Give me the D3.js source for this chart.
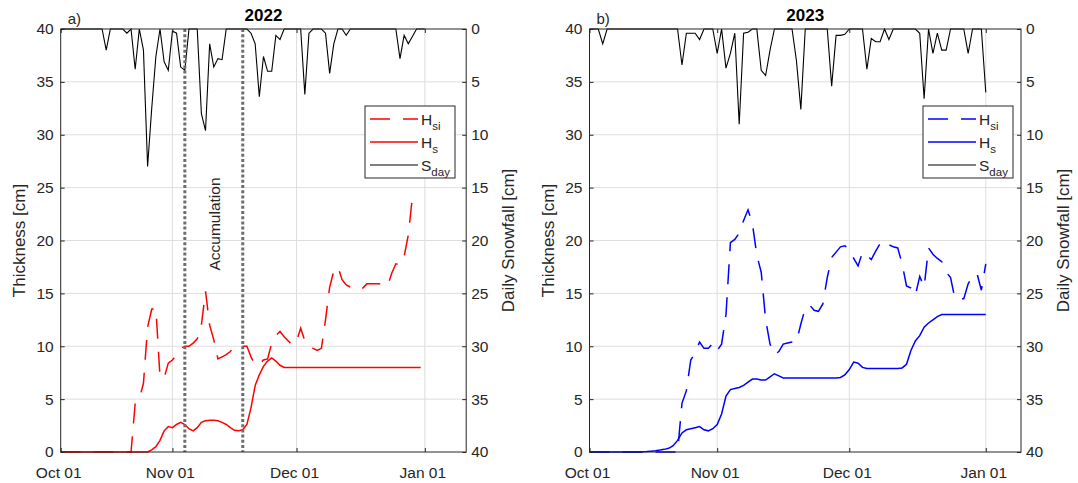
<!DOCTYPE html>
<html>
<head>
<meta charset="utf-8">
<script src="https://cdn.jsdelivr.net/npm/d3@7"></script>
<style>
body { margin: 0; background: #fff; }
svg text { font-family: "Liberation Sans", Arial, Helvetica, sans-serif; fill: #262626; }
</style>
</head>
<body>
<svg id="chart" width="1078" height="483"></svg>
<script>
// ---------------- data ----------------
const xTickLabels = ["Oct 01", "Nov 01", "Dec 01", "Jan 01"];
const yTicks = [0, 5, 10, 15, 20, 25, 30, 35, 40];
const legendLabels = [["H", "si"], ["H", "s"], ["S", "day"]];

// 2022 season, daily values starting Oct 05
const start2022 = "2022-10-05";
const snow2022 = [
	0, 0, 0, 0, 0, 0, 0, 0, 0, 0,
	0, 2.0, 0, 0, 0, 0, 0.4, 0, 3.8, 0,
	2.0, 13.0, 7.5, 2.6, 0, 3.1, 3.9, 0.2, 0.4, 3.6,
	3.9, 0, 0, 0, 8.0, 9.6, 1.4, 3.6, 2.8, 2.9,
	0, 0, 0, 0, 0, 0, 0.4, 1.4, 6.4, 2.6,
	4.0, 4.0, 0.6, 1.0, 0, 0, 0, 0, 0, 6.2,
	0.4, 0, 0, 0, 0.4, 4.2, 1.4, 0, 0, 0.6,
	0, 0, 0, 0, 0, 0, 0, 0, 0, 0,
	0, 0, 2.8, 0.6, 1.4, 0.7, 0, 0, 0
];
const hsi2022 = [
	0, 0, 0, 0, 0, 0, 0, 0, 0, 0,
	0, 0, 0, 0, 0, 0, 0, 0, 4.6, 5.0,
	6.5, 11.8, 13.5, 13.6, 7.1, 7.0, 8.4, 8.7, 9.2, 9.8,
	10.0, 10.0, 10.3, 10.7, 12.0, 15.2, 12.0, 10.6, 8.8, 9.0,
	9.2, 9.5, 10.0, 10.0, 10.0, 10.0, 9.0, 8.2, 8.3, 8.7,
	8.8, 10.3, 11.0, 11.4, 10.9, 10.5, 10.1, 10.5, 11.7, 10.5,
	10.0, 9.8, 9.6, 9.8, 12.5, 15.6, 17.1, 17.5, 16.3, 15.8,
	15.6, 15.4, 15.3, 15.5, 15.9, 15.9, 15.9, 15.9, 15.8, 15.7,
	16.9, 17.8, 17.7, 18.5, 20.5, 24.1
];
const hs2022 = [
	0, 0, 0, 0, 0, 0, 0, 0, 0, 0,
	0, 0, 0, 0, 0, 0, 0, 0, 0, 0,
	0, 0, 0.2, 0.5, 1.1, 2.0, 2.4, 2.3, 2.6, 2.8,
	2.6, 2.2, 2.0, 2.3, 2.8, 2.95, 3.0, 3.0, 2.95, 2.8,
	2.6, 2.3, 2.05, 2.0, 2.1, 2.6, 4.2, 6.3, 7.3, 8.1,
	8.6, 8.9, 8.6, 8.2, 8.0, 8, 8, 8, 8, 8,
	8, 8, 8, 8, 8, 8, 8, 8, 8, 8,
	8, 8, 8, 8, 8, 8, 8, 8, 8, 8,
	8, 8, 8, 8, 8, 8, 8, 8
];
const accumDates2022 = ["2022-11-04", "2022-11-18"];

// 2023 season, daily values starting Oct 03
const start2023 = "2023-10-03";
const snow2023 = [
	0, 0, 0, 1.4, 0, 0, 0, 0, 0, 0,
	0, 0, 0, 0, 0, 0, 0, 0, 0, 0,
	0, 3.4, 0.4, 0.4, 0.4, 1.0, 0, 0, 0, 2.3,
	0, 3.7, 2.3, 0.4, 9.0, 0.4, 0.3, 0, 0, 3.9,
	4.4, 2.0, 0, 0, 0, 0, 0, 3.0, 7.6, 0,
	0, 0, 0, 0, 0, 5.4, 0.6, 0.6, 0.5, 0,
	0, 0, 0, 3.8, 0.9, 1.2, 1.2, 0, 1.0, 0,
	0, 0, 0, 0, 0, 0.4, 6.6, 0, 2.3, 0.4,
	2.0, 2.0, 0, 0, 0, 0, 2.3, 0, 0, 0, 6.0
];
const hsi2023 = [
	0, 0, 0, 0, 0, 0, 0, 0, 0, 0,
	0, 0, 0, 0, 0, 0, 0, 0, 0, 0,
	0, 4.6, 5.8, 8.7, 9.4, 10.4, 9.8, 9.8, 10.3, 9.6,
	10.2, 13.0, 19.8, 20.1, 20.7, 21.9, 22.9, 21.6, 18.6, 17.0,
	12.5, 10.2, 9.2, 9.5, 10.2, 10.3, 10.4, 10.4, 12.1, 13.6,
	13.9, 13.4, 13.3, 14.0, 16.5, 18.4, 18.9, 19.4, 19.5, 19.2,
	18.3, 17.6, 18.9, 18.6, 18.2, 19.0, 19.7, 20.0, 19.6, 19.4,
	19.3, 17.8, 15.7, 15.5, 14.8, 16.6, 15.6, 19.3, 18.7, 18.3,
	18.0, 17.0, 16.5, 14.5, 14.5, 14.5, 15.9, 16.6, 16.9, 15.3, 17.8
];
const hs2023 = [
	0, 0, 0, 0, 0, 0, 0, 0, 0, 0,
	0, 0, 0.02, 0.04, 0.08, 0.12, 0.18, 0.25, 0.35, 0.6,
	1.1, 1.8, 2.1, 2.2, 2.3, 2.4, 2.1, 2.0, 2.2, 2.6,
	3.6, 5.3, 5.9, 6.0, 6.1, 6.3, 6.6, 6.9, 6.9, 6.8,
	6.8, 7.1, 7.4, 7.2, 7.0, 7, 7, 7, 7, 7,
	7, 7, 7, 7, 7, 7, 7, 7.05, 7.3, 7.8,
	8.5, 8.4, 8.0, 7.9, 7.9, 7.9, 7.9, 7.9, 7.9, 7.9,
	7.9, 7.95, 8.3, 9.6, 10.5, 11.0, 11.8, 12.2, 12.5, 12.8,
	13, 13, 13, 13, 13, 13, 13, 13, 13, 13, 13
];

// ---------------- drawing ----------------
const svg = d3.select("#chart");
const parseDay = s => new Date(s + "T00:00:00Z");
const TOP = 29, BOTTOM = 452;
const DASH = "20,13";

function drawPanel(p) {
	const x = d3.scaleUtc()
		.domain([parseDay(p.xMin), parseDay(p.xMax)])
		.range([p.left, p.right]);
	const y = d3.scaleLinear().domain([0, 40]).range([BOTTOM, TOP]);
	const ySnow = d3.scaleLinear().domain([0, 40]).range([TOP, BOTTOM]); // 거꾸로
	const tickDates = p.xTicks.map(parseDay);

	const g = svg.append("g");

	// grid
	g.append("g").selectAll("line")
		.data(yTicks.slice(1, -1))
		.join("line")
		.attr("x1", p.left).attr("x2", p.right)
		.attr("y1", d => y(d)).attr("y2", d => y(d))
		.attr("stroke", "#dedede");
	g.append("g").selectAll("line")
		.data(tickDates.slice(1))
		.join("line")
		.attr("x1", d => x(d)).attr("x2", d => x(d))
		.attr("y1", TOP).attr("y2", BOTTOM)
		.attr("stroke", "#dedede");

	g.append("clipPath").attr("id", "clip" + p.id)
		.append("rect")
		.attr("x", p.left).attr("y", TOP - 1)
		.attr("width", p.right - p.left).attr("height", BOTTOM - TOP + 2);

	const plot = g.append("g").attr("clip-path", `url(#clip${p.id})`);
	const start = parseDay(p.start);
	const lineOf = scale => d3.line()
		.x((d, i) => x(d3.utcDay.offset(start, i)))
		.y(d => scale(d));

	plot.append("path").datum(p.snow)
		.attr("d", lineOf(ySnow))
		.attr("fill", "none").attr("stroke", "#000").attr("stroke-width", 1.1);

	plot.append("path").datum(p.hsi)
		.attr("d", lineOf(y))
		.attr("fill", "none").attr("stroke", p.color).attr("stroke-width", 1.5)
		.attr("stroke-dasharray", DASH);

	plot.append("path").datum(p.hs)
		.attr("d", lineOf(y))
		.attr("fill", "none").attr("stroke", p.color).attr("stroke-width", 1.5);

	// 적설 구간 표시
	if (p.accum) {
		plot.selectAll(".accum").data(p.accum.map(parseDay))
			.join("line")
			.attr("class", "accum")
			.attr("x1", d => x(d)).attr("x2", d => x(d))
			.attr("y1", TOP).attr("y2", BOTTOM)
			.attr("stroke", "#6e6e6e").attr("stroke-width", 3)
			.attr("stroke-dasharray", "3,2.2");
		const mid = (x(parseDay(p.accum[0])) + x(parseDay(p.accum[1]))) / 2;
		g.append("text")
			.attr("transform", `translate(${mid + 6},224) rotate(-90)`)
			.attr("text-anchor", "middle")
			.style("font-size", "15.5px")
			.text("Accumulation");
	}

	// axes
	const styleAxis = sel => {
		sel.select(".domain").remove();
		sel.selectAll(".tick line").attr("stroke", "#262626");
		sel.selectAll("text").style("font-size", "15.5px");
	};
	g.append("g").attr("transform", `translate(${p.left},0)`)
		.call(d3.axisLeft(y).tickValues(yTicks).tickSizeInner(-4).tickSizeOuter(0).tickPadding(7))
		.call(styleAxis);
	g.append("g").attr("transform", `translate(${p.right},0)`)
		.call(d3.axisRight(ySnow).tickValues(yTicks).tickSizeInner(-4).tickSizeOuter(0).tickPadding(5))
		.call(styleAxis);
	g.append("g").attr("transform", `translate(0,${BOTTOM})`)
		.call(d3.axisBottom(x).tickValues(tickDates).tickFormat((d, i) => xTickLabels[i])
			.tickSizeInner(-4).tickSizeOuter(0).tickPadding(15))
		.call(styleAxis)
		.selectAll("text").attr("dx", -2.5);
	g.append("g").attr("transform", `translate(0,${TOP})`)
		.call(d3.axisTop(x).tickValues(tickDates).tickFormat("").tickSizeInner(-4).tickSizeOuter(0))
		.call(styleAxis);

	g.append("rect")
		.attr("x", p.left).attr("y", TOP)
		.attr("width", p.right - p.left).attr("height", BOTTOM - TOP)
		.attr("fill", "none").attr("stroke", "#262626").attr("stroke-width", 1);

	// labels
	g.append("text")
		.attr("x", (p.left + p.right) / 2).attr("y", 20.5)
		.attr("text-anchor", "middle")
		.style("font-size", "17px").style("font-weight", "bold").style("fill", "#000")
		.text(p.title);
	g.append("text")
		.attr("x", p.left + 7).attr("y", 24)
		.style("font-size", "15px")
		.text(p.tag);
	g.append("text")
		.attr("transform", `translate(${p.left - 36},${(TOP + BOTTOM) / 2}) rotate(-90)`)
		.attr("text-anchor", "middle")
		.style("font-size", "17px")
		.text("Thickness [cm]");
	g.append("text")
		.attr("transform", `translate(${p.right + 48},${(TOP + BOTTOM) / 2}) rotate(-90)`)
		.attr("text-anchor", "middle")
		.style("font-size", "17px")
		.text("Daily Snowfall [cm]");

	// legend
	const lg = g.append("g").attr("transform", `translate(${p.legendX},106)`);
	lg.append("rect")
		.attr("width", 90).attr("height", 72)
		.attr("fill", "#fff").attr("stroke", "#262626");
	const legendStyles = [
		{ color: p.color, dash: DASH, w: 1.5 },
		{ color: p.color, dash: null, w: 1.5 },
		{ color: "#000", dash: null, w: 1.1 }
	];
	legendLabels.forEach((lab, i) => {
		const yy = 13 + i * 23;
		lg.append("line")
			.attr("x1", 5).attr("x2", 53).attr("y1", yy).attr("y2", yy)
			.attr("stroke", legendStyles[i].color)
			.attr("stroke-width", legendStyles[i].w)
			.attr("stroke-dasharray", legendStyles[i].dash);
		const t = lg.append("text").attr("x", 56).attr("y", yy + 5.5).style("font-size", "15.5px");
		t.append("tspan").text(lab[0]);
		t.append("tspan").attr("dy", 5).style("font-size", "11.5px").text(lab[1]);
	});
}

drawPanel({
	id: "a", title: "2022", tag: "a)",
	left: 60.7, right: 466.2, legendX: 365,
	xMin: "2022-10-05", xMax: "2023-01-11",
	xTicks: ["2022-10-05", "2022-11-01", "2022-12-01", "2023-01-01"],
	start: start2022, snow: snow2022, hsi: hsi2022, hs: hs2022,
	color: "#ff0000", accum: accumDates2022
});

drawPanel({
	id: "b", title: "2023", tag: "b)",
	left: 589.5, right: 1021, legendX: 923,
	xMin: "2023-10-03", xMax: "2024-01-09",
	xTicks: ["2023-10-03", "2023-11-01", "2023-12-01", "2024-01-01"],
	start: start2023, snow: snow2023, hsi: hsi2023, hs: hs2023,
	color: "#0000ff", accum: null
});
</script>
</body>
</html>
